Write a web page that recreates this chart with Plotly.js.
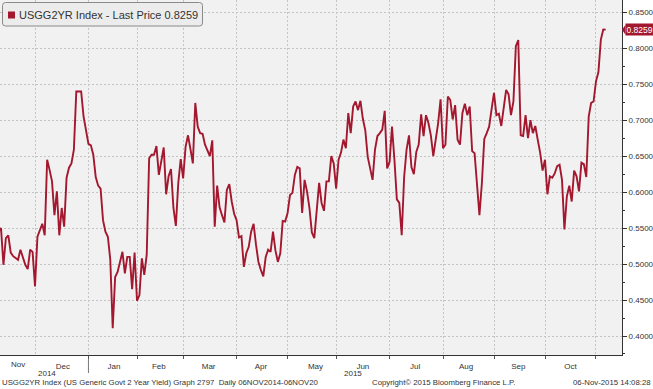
<!DOCTYPE html>
<html><head><meta charset="utf-8">
<script src="https://cdn.plot.ly/plotly-3.0.1.min.js"></script>
<style>html,body{margin:0;padding:0;background:#fff}#chart{width:653px;height:389px}</style>
</head><body><div id="chart"></div>
<script>
// ---- data ----
const seriesName = "USGG2YR Index";
const firstDate = "2014-11-06";
const marketHolidays = ["2014-11-11","2014-11-27","2014-12-25","2015-01-01","2015-01-19","2015-02-16",
  "2015-04-03","2015-05-25","2015-07-03","2015-09-07","2015-10-12","2015-11-11"];
const yieldValues = [
  0.545,0.550,0.499,0.536,0.540,0.516,0.511,0.508,0.506,0.520,
  0.508,0.499,0.493,0.520,0.517,0.469,0.538,0.547,0.556,0.540,
  0.645,0.631,0.615,0.568,0.601,0.540,0.578,0.552,0.620,0.634,
  0.640,0.659,0.740,0.740,0.740,0.705,0.686,0.667,0.665,0.652,
  0.621,0.609,0.605,0.561,0.545,0.538,0.506,0.411,0.482,0.489,
  0.503,0.517,0.487,0.510,0.510,0.465,0.516,0.449,0.457,0.508,
  0.485,0.513,0.647,0.652,0.652,0.664,0.624,0.643,0.662,0.597,
  0.622,0.632,0.578,0.553,0.613,0.646,0.619,0.663,0.679,0.660,
  0.640,0.724,0.691,0.682,0.681,0.666,0.658,0.650,0.672,0.552,
  0.609,0.579,0.568,0.558,0.603,0.611,0.587,0.570,0.561,0.537,
  0.539,0.496,0.515,0.524,0.545,0.556,0.527,0.503,0.492,0.483,
  0.510,0.520,0.517,0.545,0.519,0.503,0.515,0.560,0.559,0.571,
  0.596,0.599,0.624,0.635,0.633,0.571,0.617,0.601,0.578,0.544,
  0.536,0.581,0.613,0.585,0.574,0.615,0.615,0.650,0.640,0.605,
  0.645,0.655,0.673,0.661,0.710,0.682,0.719,0.726,0.714,0.727,
  0.702,0.686,0.649,0.633,0.617,0.659,0.678,0.682,0.687,0.713,
  0.633,0.642,0.691,0.645,0.590,0.585,0.540,0.621,0.659,0.679,
  0.635,0.625,0.656,0.666,0.708,0.678,0.707,0.696,0.679,0.650,
  0.670,0.696,0.729,0.661,0.666,0.733,0.728,0.701,0.721,0.673,
  0.666,0.710,0.723,0.707,0.719,0.657,0.654,0.611,0.568,0.612,
  0.674,0.682,0.691,0.715,0.738,0.707,0.709,0.692,0.720,0.742,
  0.736,0.707,0.726,0.803,0.8115,0.679,0.678,0.707,0.675,0.700,
  0.682,0.692,0.673,0.655,0.630,0.645,0.597,0.622,0.620,0.626,
  0.636,0.638,0.617,0.548,0.594,0.609,0.587,0.630,0.622,0.601,
  0.641,0.639,0.621,0.705,0.724,0.726,0.754,0.767,0.812,0.826,
  0.8259
];
const monthTickText = {"Nov 2014":"Nov","Dec 2014":"Dec","Jan 2015":"Jan","Feb 2015":"Feb","Mar 2015":"Mar",
  "Apr 2015":"Apr","May 2015":"May","Jun 2015":"Jun","Jul 2015":"Jul","Aug 2015":"Aug","Sep 2015":"Sep",
  "Oct 2015":"Oct","Nov 2015":" "};
const firstMonthLabel = "Nov";
const firstMonthLabelDate = "2014-11-19";
const yearLabels = ["2014","2015"];
const yearLabelDates = ["2014-12-08","2015-06-10"];
const yearDivider = "2015-01-02";
const xRange = ["2014-11-06 14:00","2015-11-17 17:00"];
const yRange = [0.3736, 0.8671];
const footerLeft = "USGG2YR Index (US Generic Govt 2 Year Yield) Graph 2797  Daily 06NOV2014-06NOV20";
const footerMid = "Copyright\u00a9 2015 Bloomberg Finance L.P.";
const footerRight = "06-Nov-2015 14:08:28";

// trading-day calendar
function tradingDates(start, n, hol) {
  const out = []; const d = new Date(start + "T00:00:00Z");
  while (out.length < n) {
    const dow = d.getUTCDay(); const s = d.toISOString().slice(0, 10);
    if (dow !== 0 && dow !== 6 && hol.indexOf(s) < 0) out.push(s);
    d.setUTCDate(d.getUTCDate() + 1);
  }
  return out;
}
const dates = tradingDates(firstDate, yieldValues.length, marketHolidays);
const lastVal = yieldValues[yieldValues.length - 1];

const RED = "#a3172f";
const FONT = "Liberation Sans, Arial, sans-serif";
const TXT = "#333333";
const AX_FS = 8;
const FOOT_FS = 7.8;

const trace = {
  type: "scatter", mode: "lines", x: dates, y: yieldValues, name: seriesName,
  line: {color: RED, width: 1.9}, showlegend: false, hoverinfo: "x+y"
};

const annotations = [
  {xref: "paper", yref: "paper", x: 0, y: 1, xshift: 17, yshift: -15, xanchor: "left", yanchor: "middle",
   showarrow: false, text: seriesName + " - Last Price " + lastVal.toFixed(4),
   font: {family: FONT, size: 11, color: TXT}},
  {xref: "paper", yref: "y", x: 1, y: lastVal, xshift: 3, xanchor: "left", yanchor: "middle",
   showarrow: false, text: lastVal.toFixed(4), bgcolor: RED, borderpad: 0.5,
   font: {family: FONT, size: 8.5, color: "#ffffff"}},
  {xref: "paper", yref: "paper", x: 0, y: 0, yshift: -27.5, xanchor: "left", yanchor: "middle",
   showarrow: false, text: footerLeft, font: {family: FONT, size: FOOT_FS, color: TXT}},
  {xref: "paper", yref: "paper", x: 370 / 622, y: 0, yshift: -27.5, xanchor: "left", yanchor: "middle",
   showarrow: false, text: footerMid, font: {family: FONT, size: FOOT_FS, color: TXT}},
  {xref: "paper", yref: "paper", x: 653 / 622, y: 0, yshift: -27.5, xanchor: "right", yanchor: "middle",
   showarrow: false, text: footerRight, font: {family: FONT, size: FOOT_FS, color: TXT}},
  {xref: "x", yref: "paper", x: firstMonthLabelDate, y: 0, yshift: -9, xanchor: "center", yanchor: "middle",
   showarrow: false, text: firstMonthLabel, font: {family: FONT, size: AX_FS, color: TXT}}
];
yearLabels.forEach((t, i) => annotations.push({
  xref: "x", yref: "paper", x: yearLabelDates[i], y: 0, yshift: -18.5, xanchor: "center", yanchor: "middle",
  showarrow: false, text: t, font: {family: FONT, size: AX_FS, color: TXT}
}));

const shapes = [
  {type: "path", xref: "paper", yref: "paper", xsizemode: "pixel", ysizemode: "pixel", xanchor: 0, yanchor: 1,
   path: "M5.5,-2.5 L199.5,-2.5 Q202.5,-2.5 202.5,-5.5 L202.5,-23 Q202.5,-26 199.5,-26 L5.5,-26 Q2.5,-26 2.5,-23 L2.5,-5.5 Q2.5,-2.5 5.5,-2.5 Z",
   fillcolor: "#ececec", line: {color: "#8a8a8a", width: 1}},
  {type: "rect", xref: "paper", yref: "paper", xsizemode: "pixel", ysizemode: "pixel", xanchor: 0, yanchor: 1,
   x0: 8, x1: 15, y0: -11.5, y1: -18.5, fillcolor: RED, line: {width: 0}},
  {type: "path", xref: "paper", yref: "y", xsizemode: "pixel", ysizemode: "pixel", xanchor: 1, yanchor: lastVal,
   path: "M0,0 L3.5,5 L3.5,-5 Z", fillcolor: RED, line: {width: 0}},
  {type: "line", xref: "x", yref: "paper", x0: yearDivider, x1: yearDivider, y0: -4 / 355, y1: -18 / 355,
   line: {color: "#777777", width: 1}}
];

const layout = {
  width: 653, height: 389,
  margin: {l: 0, r: 31, t: 0, b: 34},
  paper_bgcolor: "#ffffff", plot_bgcolor: "#f1f1f1",
  showlegend: false,
  xaxis: {
    type: "date", range: xRange,
    rangebreaks: [{bounds: ["sat", "mon"]}, {values: marketHolidays}],
    tick0: "2014-11-01", dtick: "M1", tickformat: "%b %Y", ticklabelmode: "period",
    labelalias: monthTickText,
    showgrid: true, gridcolor: "#c4c4c4", griddash: "2px,2px", gridwidth: 1,
    ticks: "outside", ticklen: 3, tickcolor: "#555555",
    showline: true, linecolor: "#333333", linewidth: 1, zeroline: false,
    tickfont: {family: FONT, size: AX_FS, color: TXT}, fixedrange: true
  },
  yaxis: {
    side: "right", range: yRange, tick0: 0.4, dtick: 0.05, tickformat: ".4f",
    showgrid: true, gridcolor: "#c4c4c4", griddash: "2px,2px", gridwidth: 1,
    ticks: "outside", ticklen: 4, tickcolor: "#333333",
    minor: {dtick: 0.025, tick0: 0.4, ticks: "outside", ticklen: 2, tickcolor: "#333333", showgrid: false},
    showline: true, linecolor: "#333333", linewidth: 1, zeroline: false,
    tickfont: {family: FONT, size: AX_FS, color: TXT}, fixedrange: true
  },
  annotations: annotations,
  shapes: shapes
};

Plotly.newPlot("chart", [trace], layout, {displayModeBar: false, staticPlot: true});
</script>
</body></html>
